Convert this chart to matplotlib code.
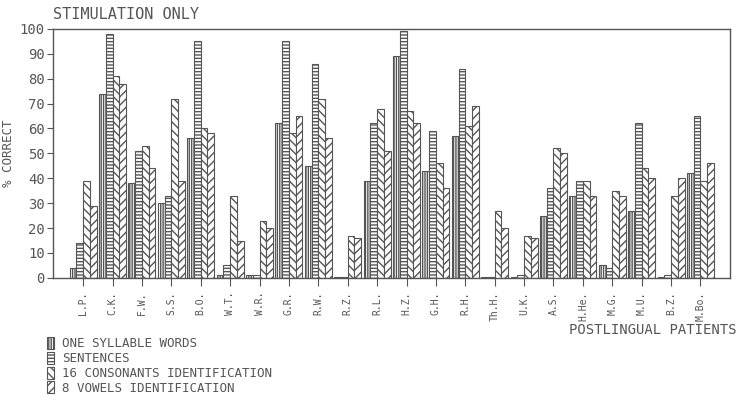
import numpy as np
import matplotlib
matplotlib.use("Agg")
import matplotlib.pyplot as plt

# values (% correct)
patients = ["L.P.", "C.K.", "F.W.", "S.S.", "B.O.", "W.T.", "W.R.", "G.R.", "R.W.", "R.Z.", "R.L.",
            "H.Z.", "G.H.", "R.H.", "Th.H.", "U.K.", "A.S.", "H.He.", "M.G.", "M.U.", "B.Z.", "M.Bo."]
one_syllable = [4, 74, 38, 30, 56, 1, 1, 62, 45, 0.5, 39, 89, 43, 57, 0.5, 0.5, 25, 33, 5, 27, 0.5, 42]
sentences = [14, 98, 51, 33, 95, 5, 1, 95, 86, 0.5, 62, 99, 59, 84, 0.5, 1, 36, 39, 4, 62, 1, 65]
consonants = [39, 81, 53, 72, 60, 33, 23, 58, 72, 17, 68, 67, 46, 61, 27, 17, 52, 39, 35, 44, 33, 39]
vowels = [29, 78, 44, 39, 58, 15, 20, 65, 56, 16, 51, 62, 36, 69, 20, 16, 50, 33, 33, 40, 40, 46]

series = [one_syllable, sentences, consonants, vowels]
names = ["ONE SYLLABLE WORDS", "SENTENCES", "16 CONSONANTS IDENTIFICATION", "8 VOWELS IDENTIFICATION"]
hatches = ["|||||||", "-----", "\\\\\\\\", "////"]

plt.rcParams['font.family'] = ['DejaVu Sans Mono']
ink = "#555555"

fig = plt.figure(figsize=(7.38, 4.01), dpi=100)
ax = fig.add_axes([0.072, 0.307, 0.917, 0.621])

x = np.arange(len(patients))
w = 0.23
bars = []
for i, vals in enumerate(series):
    b = ax.bar(x + (i - 1.5) * w, vals, width=w, color="white", edgecolor=ink,
               hatch=hatches[i], linewidth=0.8, label=names[i])
    bars.append(b)

ax.set_xlim(-1.02, len(patients) - 0.0)
ax.set_ylim(0, 100)
ax.set_yticks(range(0, 101, 10))
ax.set_xticks(x)
ax.set_xticklabels(patients, rotation=90, fontsize=7, color=ink)
ax.tick_params(axis="y", labelsize=10, colors=ink, length=4, pad=2)
ax.tick_params(axis="x", colors=ink, length=6, pad=4)
for s in ax.spines.values():
    s.set_color(ink)
    s.set_linewidth(1.0)

ax.set_ylabel("% CORRECT", fontsize=9, color=ink)
ax.yaxis.set_label_coords(-0.056, 0.5)
fig.text(0.072, 0.945, "STIMULATION ONLY", fontsize=11, color=ink, ha="left", va="bottom")
fig.text(0.998, 0.178, "POSTLINGUAL PATIENTS", fontsize=10, color=ink, ha="right", va="center")

fig.legend(handles=bars, labels=names, loc="upper left", bbox_to_anchor=(0.055, 0.175),
           frameon=False, fontsize=9, handlelength=0.6, handleheight=1.1,
           handletextpad=0.6, labelspacing=0.12, labelcolor=ink, borderpad=0)

fig.savefig("out.png", dpi=100)
